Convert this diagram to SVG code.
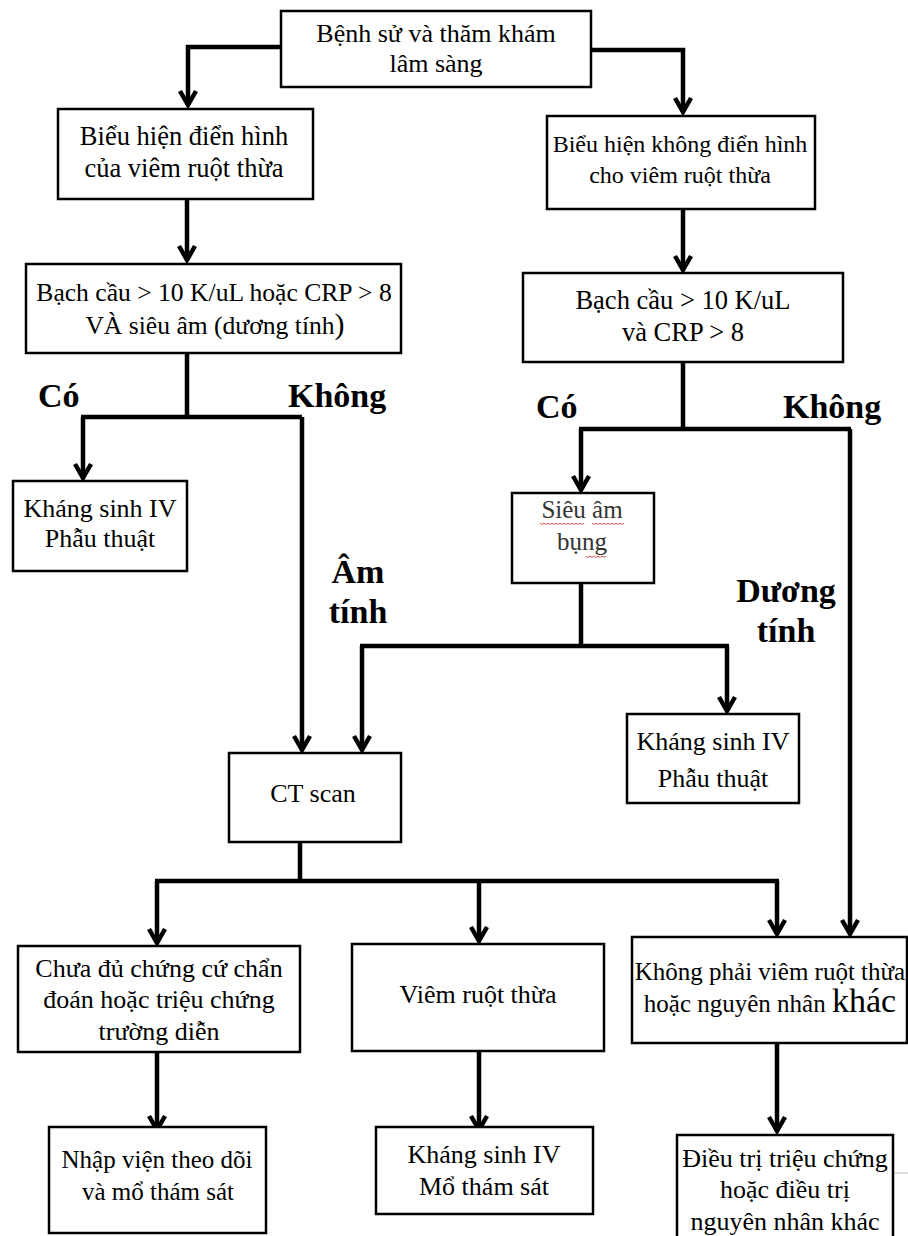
<svg xmlns="http://www.w3.org/2000/svg" width="908" height="1236" viewBox="0 0 908 1236">
<style>
  .box{fill:#fff;stroke:#000;stroke-width:2.5}
  .t{font-family:"Liberation Serif","Times New Roman",serif;fill:#000;text-anchor:middle}
  .lbl{font-family:"Liberation Serif","Times New Roman",serif;font-weight:bold;fill:#000;font-size:34px}
  .c{fill:none;stroke:#000;stroke-width:4.5;stroke-linejoin:miter}
  .sq{fill:none;stroke:#d04040;stroke-width:0.9}
</style>
<defs>
  <marker id="ah" markerUnits="userSpaceOnUse" viewBox="-16 -12 24 24" markerWidth="24" markerHeight="24" refX="0" refY="0" orient="auto" overflow="visible">
    <path d="M-14,-8 L0,0 L-14,8" fill="none" stroke="#000" stroke-width="4.5"/>
  </marker>
</defs>
<rect width="908" height="1236" fill="#fff"/>

<g id="connectors">
  <path class="c" d="M281,47 H188 V105" marker-end="url(#ah)"/>
  <path class="c" d="M591,50 H683 V112" marker-end="url(#ah)"/>
  <path class="c" d="M187,199 V260" marker-end="url(#ah)"/>
  <path class="c" d="M683,209 V270" marker-end="url(#ah)"/>
  <path class="c" d="M187,353 V417"/>
  <path class="c" d="M81,417 H302"/>
  <path class="c" d="M83,417 V478" marker-end="url(#ah)"/>
  <path class="c" d="M302,417 V750" marker-end="url(#ah)"/>
  <path class="c" d="M683,362 V429"/>
  <path class="c" d="M579,429 H851"/>
  <path class="c" d="M581,429 V490" marker-end="url(#ah)"/>
  <path class="c" d="M850,429 V934" marker-end="url(#ah)"/>
  <path class="c" d="M581,583 V646"/>
  <path class="c" d="M360,646 H729"/>
  <path class="c" d="M362,646 V750" marker-end="url(#ah)"/>
  <path class="c" d="M727,646 V711" marker-end="url(#ah)"/>
  <path class="c" d="M300,842 V881"/>
  <path class="c" d="M155,881 H779"/>
  <path class="c" d="M157,881 V943" marker-end="url(#ah)"/>
  <path class="c" d="M479,881 V941" marker-end="url(#ah)"/>
  <path class="c" d="M777,881 V934" marker-end="url(#ah)"/>
  <path class="c" d="M157,1052 V1130" marker-end="url(#ah)"/>
  <path class="c" d="M479,1051 V1130" marker-end="url(#ah)"/>
  <path class="c" d="M777,1043 V1131" marker-end="url(#ah)"/>
</g>

<g id="labels">
  <text class="lbl" x="38" y="407">Có</text>
  <text class="lbl" x="288" y="407">Không</text>
  <text class="lbl" x="536" y="418">Có</text>
  <text class="lbl" x="783" y="418">Không</text>
  <text class="lbl" x="358" y="583" text-anchor="middle">Âm</text>
  <text class="lbl" x="358" y="623" text-anchor="middle">tính</text>
  <text class="lbl" x="786" y="602" text-anchor="middle">Dương</text>
  <text class="lbl" x="786" y="642" text-anchor="middle">tính</text>
</g>

<g id="n-start">
  <rect class="box" x="281" y="11" width="310" height="76"/>
  <text class="t" x="436" y="42" font-size="26">Bệnh sử và thăm khám</text>
  <text class="t" x="436" y="72" font-size="26">lâm sàng</text>
</g>

<g id="n-typical">
  <rect class="box" x="58" y="109" width="255" height="90"/>
  <text class="t" x="184" y="145" font-size="26.5">Biểu hiện điển hình</text>
  <text class="t" x="184" y="177" font-size="26.5">của viêm ruột thừa</text>
</g>

<g id="n-atypical">
  <rect class="box" x="547" y="116" width="268" height="93"/>
  <text class="t" x="680" y="152" font-size="24">Biểu hiện không điển hình</text>
  <text class="t" x="680" y="183" font-size="24">cho viêm ruột thừa</text>
</g>

<g id="n-lab1">
  <rect class="box" x="26" y="264" width="375" height="89"/>
  <text class="t" x="214" y="301" font-size="25.6">Bạch cầu &gt; 10 K/uL hoặc CRP &gt; 8</text>
  <text class="t" x="215" y="334" font-size="25.6">VÀ siêu âm (dương tính<tspan font-size="30">)</tspan></text>
</g>

<g id="n-lab2">
  <rect class="box" x="523" y="273" width="320" height="89"/>
  <text class="t" x="683" y="309" font-size="26.5">Bạch cầu &gt; 10 K/uL</text>
  <text class="t" x="683" y="341" font-size="26.5">và CRP &gt; 8</text>
</g>

<g id="n-abx1">
  <rect class="box" x="13" y="481" width="174" height="90"/>
  <text class="t" x="100" y="517" font-size="26">Kháng sinh IV</text>
  <text class="t" x="100" y="547" font-size="26">Phẫu thuật</text>
</g>

<g id="n-us">
  <rect class="box" x="512" y="493" width="142" height="90"/>
  <text class="t" x="582" y="518" font-size="25" style="fill:#333">Siêu âm</text>
  <text class="t" x="582" y="550" font-size="25" style="fill:#333">bụng</text>
  <path class="sq" d="M540,523 l2,1.5 l2,-1.5 l2,1.5 l2,-1.5 l2,1.5 l2,-1.5 l2,1.5 l2,-1.5 l2,1.5 l2,-1.5 l2,1.5 l2,-1.5 l2,1.5 l2,-1.5 l2,1.5 l2,-1.5 l2,1.5 l2,-1.5 l2,1.5 l2,-1.5 l2,1.5 l2,-1.5"/>
  <path class="sq" d="M592,523 l2,1.5 l2,-1.5 l2,1.5 l2,-1.5 l2,1.5 l2,-1.5 l2,1.5 l2,-1.5 l2,1.5 l2,-1.5 l2,1.5 l2,-1.5 l2,1.5 l2,-1.5 l2,1.5 l2,-1.5"/>
  <path class="sq" d="M586,556 l2,1.5 l2,-1.5 l2,1.5 l2,-1.5 l2,1.5 l2,-1.5 l2,1.5 l2,-1.5 l2,1.5 l2,-1.5"/>
</g>

<g id="n-abx2">
  <rect class="box" x="627" y="714" width="172" height="89"/>
  <text class="t" x="713" y="750" font-size="26">Kháng sinh IV</text>
  <text class="t" x="713" y="787" font-size="26">Phẫu thuật</text>
</g>

<g id="n-ct">
  <rect class="box" x="229" y="753" width="172" height="89"/>
  <text class="t" x="313" y="802" font-size="26">CT scan</text>
</g>

<g id="n-unclear">
  <rect class="box" x="18" y="946" width="282" height="106"/>
  <text class="t" x="159" y="977" font-size="26">Chưa đủ chứng cứ chẩn</text>
  <text class="t" x="159" y="1008" font-size="26">đoán hoặc triệu chứng</text>
  <text class="t" x="159" y="1040" font-size="26">trường diễn</text>
</g>

<g id="n-appendicitis">
  <rect class="box" x="352" y="944" width="252" height="107"/>
  <text class="t" x="478" y="1003" font-size="26">Viêm ruột thừa</text>
</g>

<g id="n-other">
  <rect class="box" x="632" y="937" width="275" height="106"/>
  <text class="t" x="770" y="980" font-size="25">Không phải viêm ruột thừa</text>
  <text class="t" x="770" y="1012" font-size="25">hoặc nguyên nhân <tspan font-size="34">khác</tspan></text>
</g>

<g id="n-admit">
  <rect class="box" x="49" y="1127" width="217" height="106"/>
  <text class="t" x="157" y="1168" font-size="25">Nhập viện theo dõi</text>
  <text class="t" x="158" y="1200" font-size="25">và mổ thám sát</text>
</g>

<g id="n-abx3">
  <rect class="box" x="376" y="1127" width="217" height="87"/>
  <text class="t" x="484" y="1163" font-size="26">Kháng sinh IV</text>
  <text class="t" x="484" y="1195" font-size="26">Mổ thám sát</text>
</g>

<g id="n-treat">
  <rect class="box" x="677" y="1135" width="216" height="110"/>
  <text class="t" x="785" y="1167" font-size="26">Điều trị triệu chứng</text>
  <text class="t" x="785" y="1198" font-size="26">hoặc điều trị</text>
  <text class="t" x="785" y="1230" font-size="26">nguyên nhân khác</text>
</g>

<line x1="894" y1="1173" x2="908" y2="1173" stroke="#bbb" stroke-width="1"/>
</svg>
